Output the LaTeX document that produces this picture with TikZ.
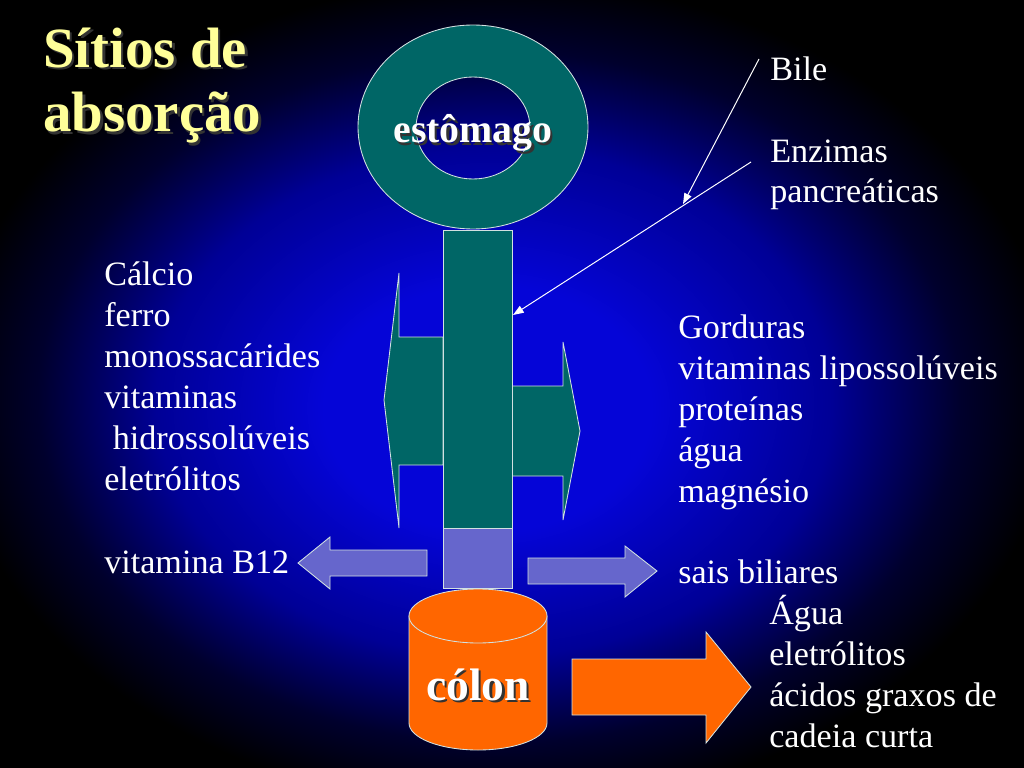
\documentclass[tikz,border=0pt]{standalone}
\usepackage{fontspec}
\setmainfont{Liberation Serif}
\usetikzlibrary{arrows.meta}
\definecolor{slideblue}{RGB}{5,5,215}
\definecolor{slidemid}{RGB}{0,0,150}
\definecolor{slidenavy}{RGB}{0,0,45}
\definecolor{gut}{RGB}{0,102,102}
\definecolor{ileum}{RGB}{102,102,204}
\definecolor{colonorange}{RGB}{255,102,0}
\definecolor{titleyellow}{RGB}{255,255,153}
\definecolor{rim}{RGB}{210,225,225}
\pgfdeclareradialshading{slidebg}{\pgfpoint{-1.5bp}{-2bp}}{color(0bp)=(slideblue); color(8bp)=(slideblue); color(16.5bp)=(slidemid); color(22.5bp)=(slidenavy); color(27bp)=(black); color(40bp)=(black)}
\newcommand{\shtext}[1]{\leavevmode\rlap{\hspace{1.6pt}\raisebox{-1.6pt}{\color{black!80}#1}}#1}

\begin{document}
\begin{tikzpicture}[x=0.703125pt,y=-0.703125pt,
    txt/.style={text=white,font=\fontsize{24}{28.8}\selectfont,inner sep=0pt,anchor=base west,align=left},
    organname/.style={text=white,inner sep=0pt,anchor=base},
    organ/.style={draw=rim,line width=0.6pt},
    pointer/.style={draw=white,line width=0.7pt,-{Triangle[length=7.5pt,width=5.5pt]}}]
    \useasboundingbox (0,0) rectangle (1024,768);
    \shade[shading=slidebg] (0,0) rectangle (1024,768);
    \node[txt,font=\fontsize{40}{45.7}\selectfont\bfseries,text=titleyellow] (title) at (43,132)
       {\shtext{Sítios de}\\\shtext{absorção}};
    \draw[organ,fill=gut,even odd rule] (473,127) ellipse[x radius=115,y radius=102]
       (473,128) ellipse[x radius=57,y radius=51];
    \node[organname,font=\fontsize{28}{32}\selectfont\bfseries] (stomach) at (473,143) {\shtext{estômago}};
    \draw[organ,fill=gut] (443,337) -- (399,337) -- (399,273) -- (384,400) -- (399,528)
       -- (399,465) -- (443,465) -- cycle;
    \draw[organ,fill=gut] (512,386) -- (563,386) -- (563,342) -- (580,431) -- (563,520)
       -- (563,476) -- (512,476) -- cycle;
    \draw[organ,fill=gut] (443,230) rectangle (512,528);
    \draw[organ,fill=ileum] (443,528) rectangle (512,588);
    \draw[organ,fill=ileum] (427,550) -- (330,550) -- (330,537) -- (298,563) -- (330,589)
       -- (330,576) -- (427,576) -- cycle;
    \draw[organ,fill=ileum] (528,558) -- (625,558) -- (625,546) -- (657,571) -- (625,597)
       -- (625,584) -- (528,584) -- cycle;
    \draw[organ,fill=colonorange] (409,616) -- (409,723)
       arc[start angle=180,end angle=0,x radius=69,y radius=27] -- (547,616) -- cycle;
    \draw[organ,fill=colonorange] (478,616) ellipse[x radius=69,y radius=27];
    \node[organname,font=\fontsize{32}{36}\selectfont\bfseries] (colon) at (478,700) {\shtext{cólon}};
    \draw[organ,fill=colonorange] (572,659) -- (706,659) -- (706,632) -- (751,687) -- (706,743)
       -- (706,715) -- (572,715) -- cycle;
    \node[txt] (bile) at (770,81) {Bile};
    \node[txt] (enzymes) at (770,203) {Enzimas\\pancreáticas};
    \coordinate (bilefrom) at (759,59);
    \coordinate (bileto) at (683,204);
    \coordinate (enzfrom) at (751,162);
    \coordinate (duodenum) at (513,315);
    \draw[pointer] (bilefrom) -- (bileto);
    \draw[pointer] (enzfrom) -- (duodenum);
    \node[txt] (leftlist) at (104,490)
       {Cálcio\\ferro\\monossacárides\\vitaminas\\\hspace{6pt}hidrossolúveis\\eletrólitos};
    \node[txt] (b12) at (104,573) {vitamina B12};
    \node[txt] (rightlist) at (678,502)
       {Gorduras\\vitaminas lipossolúveis\\proteínas\\água\\magnésio};
    \node[txt] (bilesalts) at (678,583) {sais biliares};
    \node[txt] (colonlist) at (769,747) {Água\\eletrólitos\\ácidos graxos de\\cadeia curta};
\end{tikzpicture}
\end{document}
